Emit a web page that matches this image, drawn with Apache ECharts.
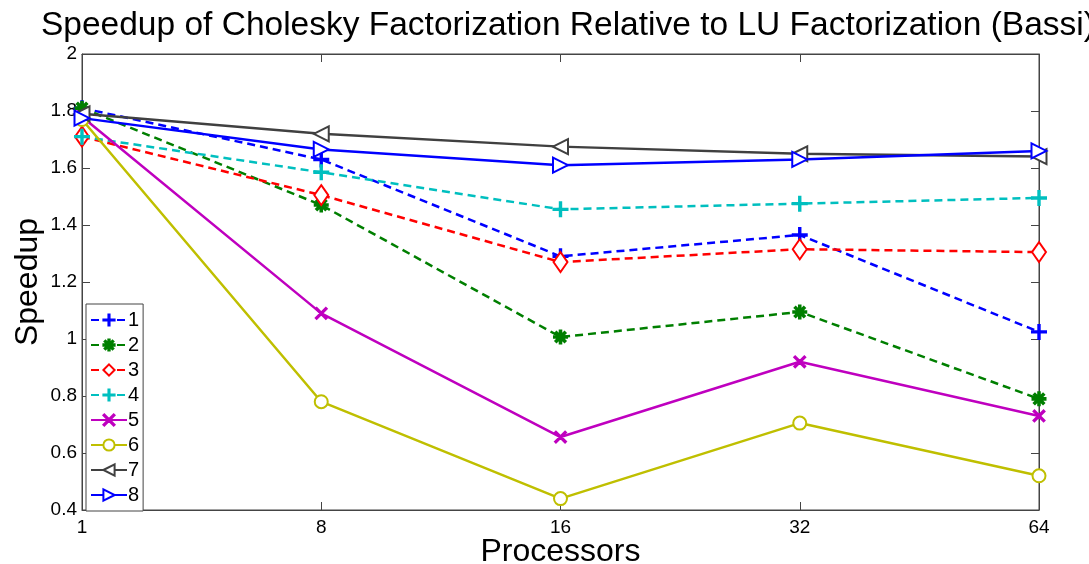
<!DOCTYPE html>
<html>
<head>
<meta charset="utf-8">
<script src="https://cdn.jsdelivr.net/npm/echarts@6/dist/echarts.min.js"></script>
<style>
html, body { margin: 0; padding: 0; background: #fff; }
#chart { width: 1089px; height: 564px; }
</style>
</head>
<body>
<div id="chart"></div>
<script>
// 横轴：处理器数量
var processors = ['1', '8', '16', '32', '64']
var yTicks = [0.4, 0.6, 0.8, 1, 1.2, 1.4, 1.6, 1.8, 2]

// 每条曲线的加速比
var s1 = [1.81, 1.63, 1.29, 1.365, 1.025]
var s2 = [1.81, 1.47, 1.007, 1.095, 0.79]
var s3 = [1.71, 1.505, 1.27, 1.315, 1.305]
var s4 = [1.71, 1.585, 1.455, 1.475, 1.495]
var s5 = [1.78, 1.09, 0.656, 0.92, 0.73]
var s6 = [1.77, 0.78, 0.44, 0.705, 0.52]
var s7 = [1.79, 1.72, 1.675, 1.65, 1.64]
var s8 = [1.775, 1.665, 1.61, 1.63, 1.66]
var seriesNames = ['1', '2', '3', '4', '5', '6', '7', '8']

var font = 'Liberation Sans, Arial, Helvetica, sans-serif'

// 标记形状
var plusPath = 'path://M-1,-10h2v20h-2zM-10,-1h20v2h-20z'
var crossPath = 'path://M-8.2,-6.8L6.8,8.2L8.2,6.8L-6.8,-8.2zM-8.2,6.8L6.8,-8.2L8.2,-6.8L-6.8,8.2z'
var starPath = 'path://M-1.2,-10h2.4v20h-2.4zM-10,-1.2h20v2.4h-20zM-7.9,-6.2L6.2,7.9L7.9,6.2L-6.2,-7.9zM-7.9,6.2L6.2,-7.9L7.9,-6.2L-6.2,7.9z'

function makeSeries(name, data, color, dashed, symbol, size, rotate) {
    return {
        name: name,
        type: 'line',
        data: data,
        symbol: symbol,
        symbolSize: size,
        symbolRotate: rotate || 0,
        color: color,
        lineStyle: { color: color, width: 2.5, type: dashed ? [8, 5] : 'solid' },
        itemStyle: { color: color, borderColor: color, borderWidth: 2 },
        emphasis: { disabled: true },
        animation: false
    }
}

var chart = echarts.init(document.getElementById('chart'))
var option = {
    backgroundColor: '#fff',
    title: {
        text: 'Speedup of Cholesky Factorization Relative to LU Factorization (Bassi)',
        left: 36,
        top: 4,
        textStyle: { fontFamily: font, fontSize: 33.5, fontWeight: 'normal', color: '#000' }
    },
    legend: {
        orient: 'vertical',
        left: 86,
        top: 304,
        data: seriesNames,
        itemWidth: 36,
        itemHeight: 14,
        itemGap: 5,
        padding: [6, 4, 6, 4],
        backgroundColor: '#fff',
        borderColor: '#444',
        borderWidth: 1,
        borderRadius: 0,
        textStyle: { fontFamily: font, fontSize: 20, color: '#000', padding: [0, 0, 0, -4] }
    },
    grid: {
        left: 82, right: 50, top: 54, bottom: 54,
        outerBoundsMode: 'none',
        containLabel: false,
        show: true, borderColor: '#444', borderWidth: 1
    },
    xAxis: [{
        type: 'category',
        data: processors,
        boundaryGap: false,
        name: 'Processors',
        nameLocation: 'middle',
        nameGap: 26,
        nameMoveOverlap: false,
        nameTextStyle: { fontFamily: font, fontSize: 32, color: '#000', verticalAlign: 'top' },
        axisLine: { lineStyle: { color: '#444' } },
        axisTick: { inside: true, length: 8, lineStyle: { color: '#444' } },
        axisLabel: { fontFamily: font, fontSize: 19, color: '#000', margin: 8 },
        splitLine: { show: false }
    }, {
        type: 'category',
        data: processors,
        boundaryGap: false,
        position: 'top',
        axisLine: { lineStyle: { color: '#444' } },
        axisTick: { inside: true, length: 8, lineStyle: { color: '#444' } },
        axisLabel: { show: false }
    }],
    yAxis: [{
        type: 'value',
        min: yTicks[0],
        max: yTicks[yTicks.length - 1],
        interval: 0.2,
        name: 'Speedup',
        nameLocation: 'middle',
        nameGap: 38,
        nameMoveOverlap: false,
        nameRotate: 90,
        nameTextStyle: { fontFamily: font, fontSize: 32, color: '#000' },
        axisLine: { show: true, lineStyle: { color: '#444' } },
        axisTick: { show: true, inside: true, length: 8, lineStyle: { color: '#444' } },
        axisLabel: { fontFamily: font, fontSize: 19, color: '#000', margin: 5 },
        splitLine: { show: false }
    }, {
        type: 'value',
        min: yTicks[0],
        max: yTicks[yTicks.length - 1],
        interval: 0.2,
        position: 'right',
        axisLine: { show: true, lineStyle: { color: '#444' } },
        axisTick: { show: true, inside: true, length: 8, lineStyle: { color: '#444' } },
        axisLabel: { show: false },
        splitLine: { show: false }
    }],
    series: [
        makeSeries('1', s1, '#0000ff', true, plusPath, 14),
        makeSeries('2', s2, '#007f00', true, starPath, 13),
        makeSeries('3', s3, '#ff0000', true, 'emptyDiamond', [14, 20]),
        makeSeries('4', s4, '#00bfbf', true, plusPath, 14),
        makeSeries('5', s5, '#bf00bf', false, crossPath, 11),
        makeSeries('6', s6, '#bfbf00', false, 'emptyCircle', 13),
        makeSeries('7', s7, '#404040', false, 'emptyTriangle', 15, 90),
        makeSeries('8', s8, '#0000ff', false, 'emptyTriangle', 15, -90)
    ]
}
chart.setOption(option)
</script>
</body>
</html>
